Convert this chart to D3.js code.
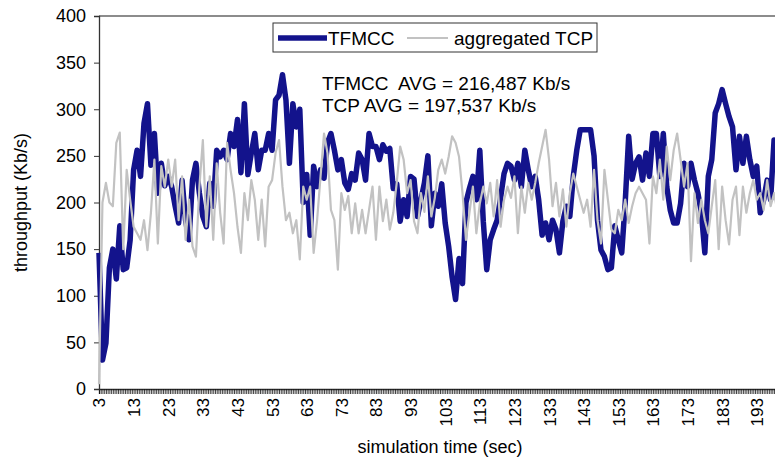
<!DOCTYPE html>
<html>
<head>
<meta charset="utf-8">
<script src="https://cdn.jsdelivr.net/npm/d3@7"></script>
<style>
  body { margin: 0; background: #fff; }
  text { font-family: "Liberation Sans", Arial, sans-serif; }
</style>
</head>
<body>
<div id="my_dataviz"></div>
<script>
// simulation time, one value per second
const times = d3.range(3, 201)

// TFMCC throughput (Kb/s)
const tfmcc = [
  146, 31, 49, 130, 150, 118, 175, 128, 130, 160,
  235, 256, 228, 285, 306, 240, 274, 210, 242, 218,
  228, 217, 196, 178, 224, 181, 160, 224, 242, 210,
  185, 174, 221, 196, 256, 249, 256, 246, 274, 260,
  289, 232, 306, 230, 253, 274, 235, 256, 256, 274,
  256, 310, 315, 337, 310, 242, 306, 281, 300, 200,
  230, 165, 239, 217, 235, 226, 264, 274, 256, 235,
  246, 221, 214, 231, 224, 253, 246, 224, 274, 260,
  260, 246, 262, 255, 258, 215, 220, 180, 203, 185,
  228, 225, 185, 203, 221, 250, 175, 210, 196, 220,
  178, 153, 120, 96, 140, 113, 200, 215, 228, 203,
  256, 180, 128, 160, 171, 181, 205, 231, 242, 239,
  224, 242, 217, 256, 235, 217, 228, 203, 165, 178,
  160, 181, 171, 146, 180, 196, 185, 228, 256, 278,
  278, 278, 278, 250, 181, 149, 142, 128, 130, 175,
  160, 146, 200, 271, 225, 242, 249, 224, 253, 228,
  274, 274, 228, 274, 217, 192, 178, 178, 199, 242,
  217, 242, 224, 210, 189, 146, 228, 246, 296, 306,
  321, 306, 292, 281, 235, 271, 242, 271, 246, 228,
  239, 189, 203, 224, 203, 267, 260, 255
]

// aggregated TCP throughput (Kb/s)
const tcp = [
  5, 200, 221, 200, 196, 264, 275, 150, 235, 203,
  174, 167, 160, 181, 149, 189, 246, 156, 239, 217,
  246, 217, 246, 181, 228, 160, 203, 153, 142, 217,
  267, 174, 228, 160, 242, 189, 156, 264, 235, 210,
  174, 146, 210, 181, 224, 203, 160, 203, 153, 217,
  224, 253, 267, 217, 181, 189, 167, 181, 139, 217,
  203, 217, 146, 181, 228, 274, 253, 192, 181, 128,
  210, 192, 207, 167, 199, 167, 192, 167, 192, 217,
  160, 217, 180, 203, 171, 189, 221, 260, 246, 210,
  224, 180, 167, 210, 190, 228, 185, 205, 235, 246,
  231, 249, 271, 264, 249, 210, 160, 189, 217, 167,
  199, 217, 199, 221, 185, 224, 174, 203, 217, 205,
  228, 167, 217, 189, 221, 203, 221, 242, 260, 278,
  246, 196, 221, 185, 214, 174, 210, 231, 217, 203,
  189, 203, 174, 235, 181, 156, 235, 203, 171, 167,
  192, 181, 203, 178, 196, 210, 217, 210, 203, 156,
  228, 210, 246, 203, 260, 224, 256, 274, 246, 217,
  242, 137, 210, 178, 203, 181, 167, 196, 224, 150,
  217, 181, 155, 203, 217, 165, 217, 189, 210, 224,
  203, 210, 192, 224, 196, 210, 190, 205
]

const xLabels = [3, 13, 23, 33, 43, 53, 63, 73, 83, 93, 103, 113, 123, 133, 143, 153, 163, 173, 183, 193]
const yLabels = [0, 50, 100, 150, 200, 250, 300, 350, 400]

const seriesNames = ["TFMCC", "aggregated TCP"]
const avgLines = ["TFMCC  AVG = 216,487 Kb/s", "TCP AVG = 197,537 Kb/s"]

// dimenzije
const margin = {top: 16, left: 99},
    width = 682,
    height = 373;

const svg = d3.select("#my_dataviz")
  .append("svg")
    .attr("width", 775)
    .attr("height", 467)
    .style("display", "block")
  .append("g")
    .attr("transform", `translate(${margin.left}, ${margin.top})`);

const x = d3.scaleLinear()
  .domain([3, 200])
  .range([0, width]);

const y = d3.scaleLinear()
  .domain([0, 400])
  .range([height, 0]);

// top border of plot area
svg.append("line")
  .attr("x1", 0).attr("x2", width)
  .attr("y1", 0).attr("y2", 0)
  .attr("stroke", "#666")
  .attr("stroke-width", 1.4);

// dense category ticks
svg.append("g")
  .attr("transform", `translate(0, ${height})`)
  .call(d3.axisBottom(x).tickValues(d3.range(3, 200.5, 0.5)).tickSize(5).tickFormat(""))
  .call(g => g.selectAll(".tick line").attr("stroke", "#111").attr("stroke-width", 0.8))
  .call(g => g.select(".domain").attr("stroke", "#333").attr("stroke-width", 1.3));

// x labels
svg.append("g")
  .attr("transform", `translate(0, ${height})`)
  .call(d3.axisBottom(x).tickValues(xLabels).tickSize(0).tickFormat(d3.format("d")))
  .call(g => g.select(".domain").remove())
  .call(g => g.selectAll("text")
    .attr("transform", "rotate(-90)")
    .attr("x", -9)
    .attr("y", 0)
    .attr("dy", "0.35em")
    .style("text-anchor", "end")
    .style("font-size", "17px")
    .attr("fill", "#000"));

// y axis
svg.append("g")
  .call(d3.axisLeft(y).tickValues(yLabels).tickSize(5).tickPadding(8))
  .call(g => g.select(".domain").attr("stroke", "#333").attr("stroke-width", 1.3))
  .call(g => g.selectAll(".tick line").attr("stroke", "#333"))
  .call(g => g.selectAll("text").style("font-size", "18px").attr("fill", "#000"));

// axis titles
svg.append("text")
  .attr("transform", "rotate(-90)")
  .attr("x", -height / 2)
  .attr("y", -72)
  .attr("text-anchor", "middle")
  .style("font-size", "18px")
  .attr("fill", "#000")
  .text("throughput (Kb/s)");

svg.append("text")
  .attr("x", 341)
  .attr("y", 437)
  .attr("text-anchor", "middle")
  .style("font-size", "18px")
  .attr("fill", "#000")
  .text("simulation time (sec)");

// lines
const line = function(values) {
  return d3.line()
    .x(function(d, i) { return x(times[i]); })
    .y(function(d) { return y(d); })(values);
}

svg.append("path")
  .attr("d", line(tfmcc))
  .attr("fill", "none")
  .attr("stroke", "#13138c")
  .attr("stroke-width", 5.5)
  .attr("stroke-linejoin", "round");

svg.append("path")
  .attr("d", line(tcp))
  .attr("fill", "none")
  .attr("stroke", "#c2c2c2")
  .attr("stroke-width", 2.2)
  .attr("stroke-linejoin", "round");

// legend
const legend = svg.append("g").attr("transform", "translate(174, 7)");
legend.append("rect")
  .attr("width", 324).attr("height", 29)
  .attr("fill", "#fff")
  .attr("stroke", "#333")
  .attr("stroke-width", 1);
legend.append("line")
  .attr("x1", 5).attr("x2", 54).attr("y1", 15).attr("y2", 15)
  .attr("stroke", "#13138c").attr("stroke-width", 5.5);
legend.append("text")
  .attr("x", 55).attr("y", 15).attr("dy", "0.35em")
  .style("font-size", "19px").attr("fill", "#000")
  .text(seriesNames[0]);
legend.append("line")
  .attr("x1", 134).attr("x2", 175).attr("y1", 15).attr("y2", 15)
  .attr("stroke", "#c2c2c2").attr("stroke-width", 2);
legend.append("text")
  .attr("x", 181).attr("y", 15).attr("dy", "0.35em")
  .style("font-size", "19px").attr("fill", "#000")
  .text(seriesNames[1]);

// averages
svg.selectAll("avgtext")
  .data(avgLines)
  .join("text")
    .attr("x", 223)
    .attr("y", function(d, i) { return 74 + i * 22; })
    .style("font-size", "19px")
    .style("white-space", "pre")
    .attr("fill", "#000")
    .text(function(d) { return d; });
</script>
</body>
</html>
